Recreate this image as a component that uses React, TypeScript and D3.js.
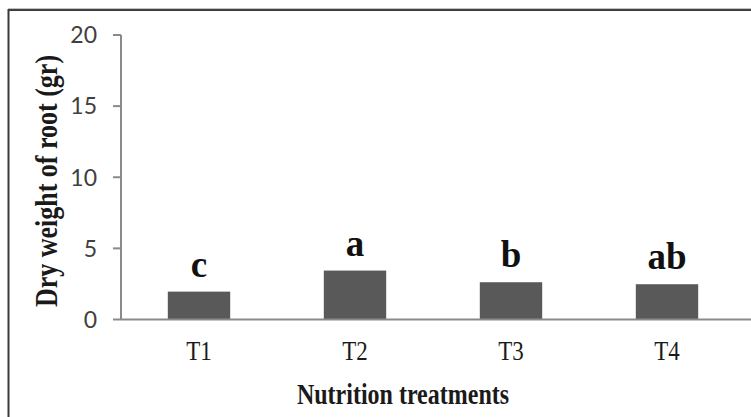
import React from "react";
import * as d3 from "d3";

const treatments = ["T1", "T2", "T3", "T4"];
const dryWeight = [1.96, 3.44, 2.62, 2.48];
const letters = ["c", "a", "b", "ab"];
const yTicks = [0, 5, 10, 15, 20];

const W = 751;
const H = 417;
const plot = { left: 121, right: 745, top: 35, bottom: 319.5 };
const serif = "'Liberation Serif', 'Times New Roman', serif";

export default function App() {
  const x = d3.scaleBand().domain(treatments).range([plot.left, plot.right]).paddingInner(0.6).paddingOuter(0.3);
  const y = d3.scaleLinear().domain([0, 20]).range([plot.bottom, plot.top]);
  const cx = (t: string) => (x(t) ?? 0) + x.bandwidth() / 2;

  return (
    <svg width={W} height={H} style={{ position: "absolute", left: 0, top: 0, background: "#fff" }}>
      {/* outer frame, only the top and left edges show */}
      <rect x={8.5} y={10} width={W + 20} height={H + 20} fill="none" stroke="#3a3a3a" strokeWidth={2} />
      <line x1={8} x2={W} y1={8.6} y2={8.6} stroke="#bbb" strokeWidth={1} />

      {/* y axis */}
      <line x1={plot.left} x2={plot.left} y1={y(20)} y2={y(0)} stroke="#8a8a8a" strokeWidth={2} />
      {yTicks.map(t => (
        <g key={t}>
          <line x1={plot.left - 8} x2={plot.left} y1={y(t)} y2={y(t)} stroke="#8a8a8a" strokeWidth={2} />
          <text x={plot.left - 24} y={y(t)} dy="0.36em" textAnchor="end" fontFamily="Lato, sans-serif" fontSize={23} fill="#404040">
            {t}
          </text>
        </g>
      ))}

      {/* bars */}
      {treatments.map((t, i) => (
        <rect key={t} x={x(t)} y={y(dryWeight[i])} width={x.bandwidth()} height={y(0) - y(dryWeight[i])} fill="#595959" />
      ))}

      {/* x axis */}
      <line x1={plot.left} x2={W} y1={y(0)} y2={y(0)} stroke="#8a8a8a" strokeWidth={2} />
      {treatments.map(t => (
        <text key={t} transform={`translate(${cx(t)},360) scale(1,1.2)`} textAnchor="middle" fontFamily={serif} fontSize={23} fill="#1a1a1a">
          {t}
        </text>
      ))}

      {/* significance letters */}
      {treatments.map((t, i) => (
        <text key={t} x={cx(t)} y={y(dryWeight[i]) - 15} textAnchor="middle" fontFamily={serif} fontWeight="bold" fontSize={37} fill="#111">
          {letters[i]}
        </text>
      ))}

      {/* axis titles */}
      <text transform="translate(403,404) scale(1,1.2)" textAnchor="middle" fontFamily={serif} fontWeight="bold" fontSize={24} fill="#1a1a1a">
        Nutrition  treatments
      </text>
      <text transform="translate(57,181) rotate(-90) scale(1,1.2)" textAnchor="middle" fontFamily={serif} fontWeight="bold" fontSize={26} fill="#1a1a1a">
        Dry weight of root (gr)
      </text>
    </svg>
  );
}
